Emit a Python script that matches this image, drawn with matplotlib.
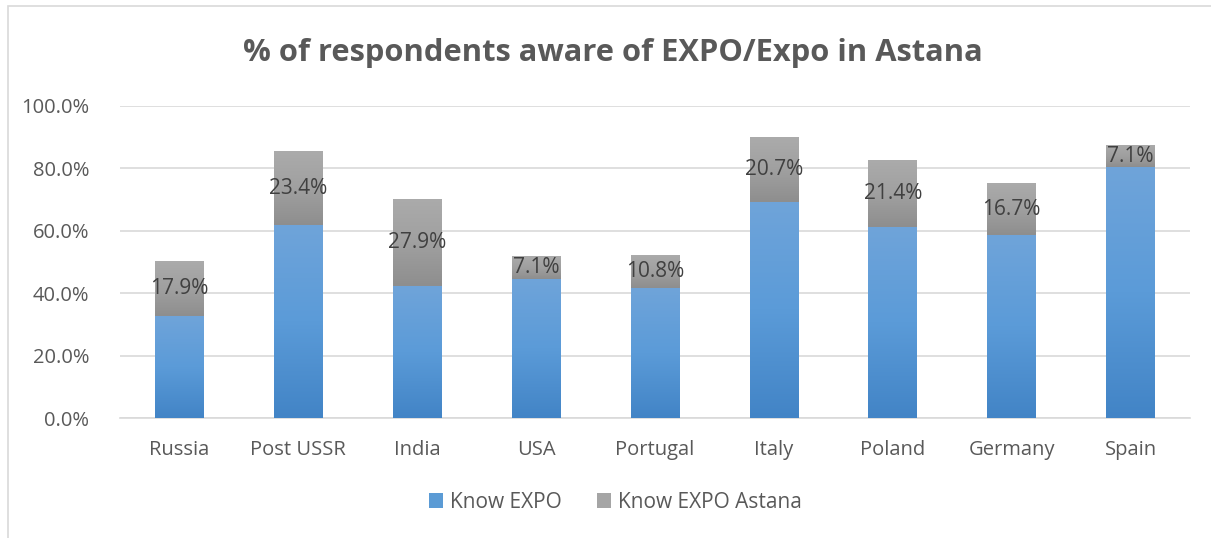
import numpy as np
import matplotlib
matplotlib.use("Agg")
import matplotlib.pyplot as plt
from matplotlib.colors import LinearSegmentedColormap
from matplotlib.patches import Patch, Rectangle

plt.rcParams['font.family'] = ['Open Sans', 'DejaVu Sans']

# survey data (percent of respondents)
countries = ["Russia", "Post USSR", "India", "USA", "Portugal", "Italy", "Poland", "Germany", "Spain"]
know_expo = [32.5, 61.9, 42.1, 44.6, 41.5, 69.2, 61.1, 58.5, 80.2]
know_astana = [17.9, 23.4, 27.9, 7.1, 10.8, 20.7, 21.4, 16.7, 7.1]
yticks = [0, 20, 40, 60, 80, 100]

blue_cmap = LinearSegmentedColormap.from_list("blue", ["#4284c6", "#5b9bd8", "#6fa4da"])
gray_cmap = LinearSegmentedColormap.from_list("gray", ["#8e8e8e", "#a0a0a0", "#ababab"])
grad = np.linspace(0, 1, 256).reshape(-1, 1)

fig = plt.figure(figsize=(12.11, 5.38), dpi=100)
ax = fig.add_axes([0.0991, 0.2230, 0.8836, 0.5809])

x = np.arange(len(countries))
width = 0.41

def gradient_bars(bars, cmap):
    # fill each bar with a vertical gradient clipped to the bar shape
    for b in bars:
        x0, y0 = b.get_x(), b.get_y()
        im = ax.imshow(grad, extent=[x0, x0 + b.get_width(), y0, y0 + b.get_height()],
                       cmap=cmap, origin="lower", aspect="auto", zorder=3)
        im.set_clip_path(b)

b1 = ax.bar(x, know_expo, width, color="#5b9bd5", zorder=2, linewidth=0)
b2 = ax.bar(x, know_astana, width, bottom=know_expo, color="#a5a5a5", zorder=2, linewidth=0)
gradient_bars(b1, blue_cmap)
gradient_bars(b2, gray_cmap)

for xi, base, val in zip(x, know_expo, know_astana):
    ax.text(xi, base + val / 2, f"{val:.1f}%", ha="center", va="center",
            fontsize=15, color="#404040", zorder=5)

ax.set_xlim(-0.5, len(countries) - 0.5)
ax.set_ylim(0, 100)
ax.set_yticks(yticks)
ax.set_yticklabels([f"{v:.1f}%" for v in yticks])
ax.set_xticks(x)
ax.set_xticklabels(countries)
ax.tick_params(axis="both", length=0, labelsize=14.5, colors="#595959")
ax.tick_params(axis="x", pad=16)
ax.tick_params(axis="y", pad=22)
ax.yaxis.grid(True, color="#d9d9d9", linewidth=1.2, zorder=0)
ax.set_axisbelow(True)
for s in ["top", "right", "left"]:
    ax.spines[s].set_visible(False)
ax.spines["bottom"].set_color("#d9d9d9")
ax.spines["bottom"].set_linewidth(1.2)

fig.text(0.506, 0.902, "% of respondents aware of EXPO/Expo in Astana", ha="center", va="center",
         fontsize=22.2, fontweight="bold", color="#595959")

handles = [Patch(facecolor="#5b9bd5", label="Know EXPO"),
           Patch(facecolor="#a5a5a5", label="Know EXPO Astana")]
fig.legend(handles=handles, loc="center", bbox_to_anchor=(0.508, 0.066), ncol=2, frameon=False,
           fontsize=15, labelcolor="#595959", handlelength=0.7, handleheight=0.7,
           handletextpad=0.3, columnspacing=1.7)

# chart frame
fig.patches.append(Rectangle((8 / 1211, -0.1), 1.2, 1 - 6 / 538 + 0.1, transform=fig.transFigure,
                             fill=False, edgecolor="#d9d9d9", linewidth=1.2))

fig.savefig("out.png", dpi=100)
